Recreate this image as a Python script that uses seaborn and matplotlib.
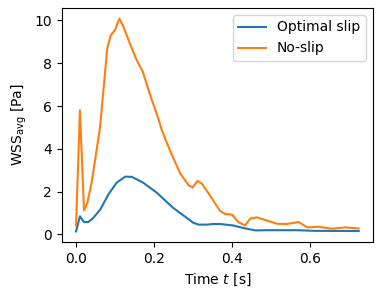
import pandas as pd
import matplotlib
matplotlib.use("Agg")
import matplotlib.pyplot as plt
import seaborn as sns

# values
t_slip = [0.0, 0.010, 0.0205, 0.031, 0.044, 0.062, 0.083, 0.104, 0.126, 0.143,
          0.172, 0.207, 0.249, 0.267, 0.284, 0.300, 0.314, 0.335, 0.352, 0.369,
          0.403, 0.429, 0.459, 0.489, 0.566, 0.609, 0.724]
wss_slip = [0.14, 0.85, 0.58, 0.58, 0.77, 1.16, 1.87, 2.42, 2.70, 2.69,
            2.42, 1.95, 1.24, 1.00, 0.77, 0.55, 0.46, 0.46, 0.49, 0.49,
            0.42, 0.30, 0.19, 0.20, 0.20, 0.17, 0.16]

t_noslip = [0.0, 0.010, 0.0205, 0.029, 0.040, 0.0615, 0.080, 0.089, 0.100, 0.111,
            0.121, 0.134, 0.155, 0.171, 0.190, 0.208, 0.220, 0.241, 0.267, 0.288,
            0.299, 0.311, 0.322, 0.342, 0.369, 0.382, 0.399, 0.416, 0.433, 0.446,
            0.463, 0.489, 0.515, 0.540, 0.570, 0.593, 0.621, 0.656, 0.690, 0.724]
wss_noslip = [0.42, 5.8, 1.12, 1.48, 2.42, 5.0, 8.7, 9.3, 9.55, 10.08,
              9.73, 9.1, 8.16, 7.6, 6.5, 5.57, 4.86, 3.9, 2.85, 2.3,
              2.2, 2.5, 2.38, 1.85, 1.1, 0.96, 0.93, 0.58, 0.42, 0.74,
              0.80, 0.65, 0.50, 0.49, 0.58, 0.33, 0.36, 0.27, 0.33, 0.28]

df = pd.concat([
    pd.DataFrame({"t": t_slip, "wss": wss_slip, "case": "Optimal slip"}),
    pd.DataFrame({"t": t_noslip, "wss": wss_noslip, "case": "No-slip"}),
])

fig = plt.figure(figsize=(3.82, 2.96), dpi=100)
ax = fig.add_axes([0.162, 0.182, 0.814, 0.791])

sns.lineplot(data=df, x="t", y="wss", hue="case", sort=False,
             palette=["tab:blue", "tab:orange"], ax=ax)

ax.set_xlabel("Time $t$ [s]")
ax.set_ylabel(r"WSS$_{\mathrm{avg}}$ [Pa]")
ax.set_xticks([0.0, 0.2, 0.4, 0.6])
ax.set_yticks([0, 2, 4, 6, 8, 10])
ax.legend(loc="upper right", title=None)

fig.savefig("out.png", dpi=100)
